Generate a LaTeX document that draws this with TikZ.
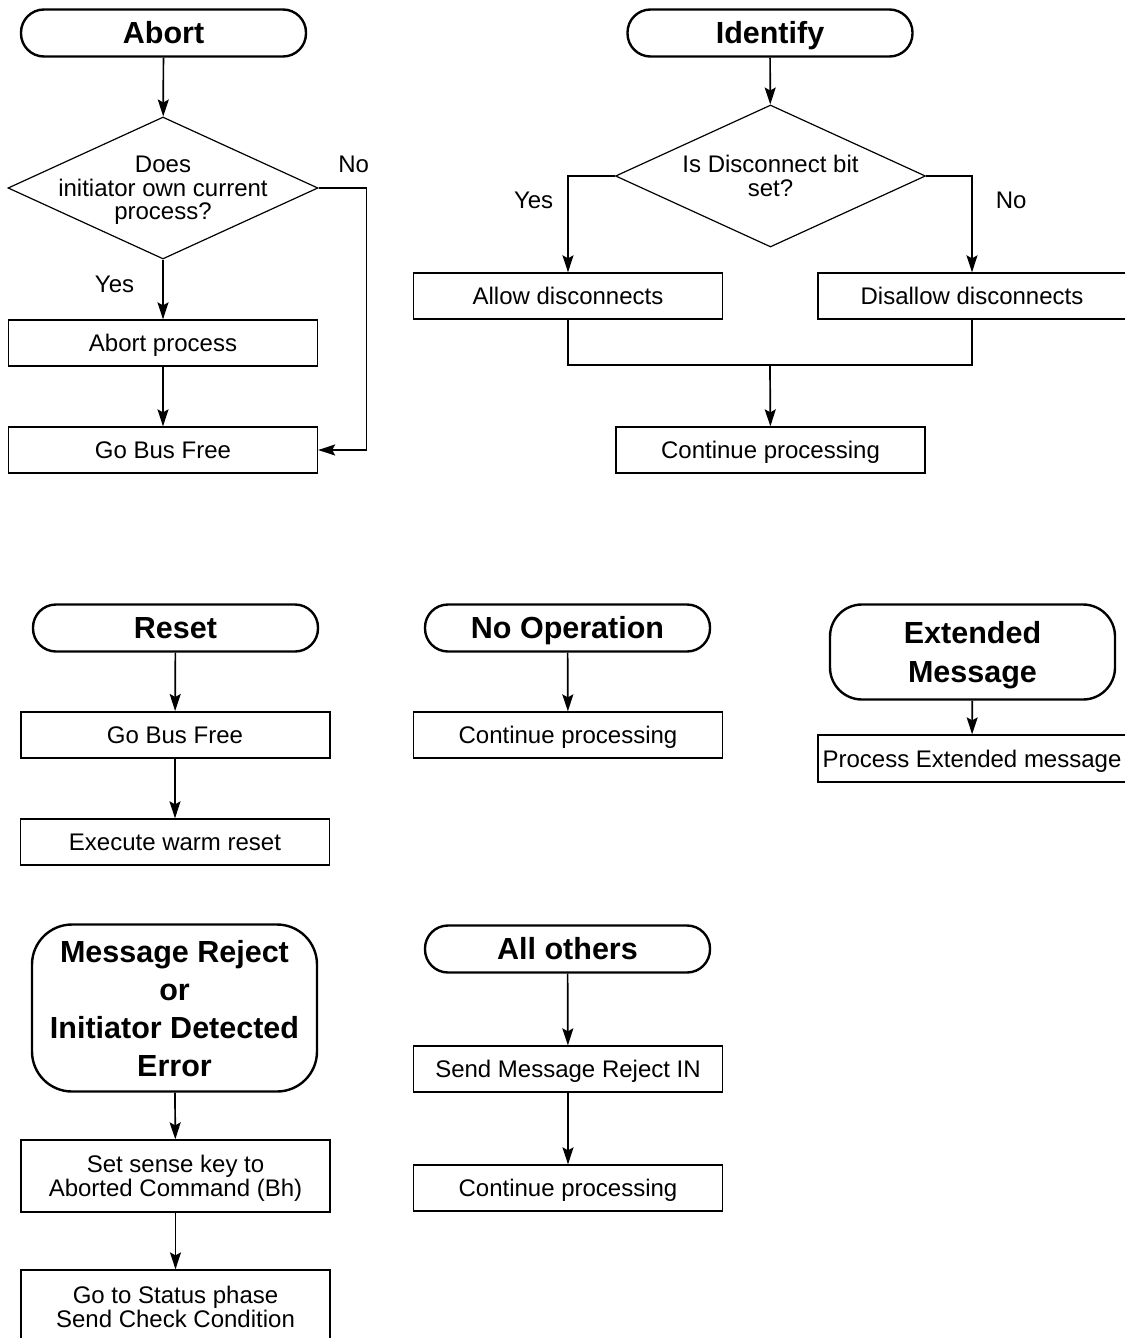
\documentclass[tikz,border=0pt]{standalone}
\usepackage{fontspec}
\setmainfont{Liberation Sans}
\usepackage{tikz}
\usetikzlibrary{shapes.geometric}
\usetikzlibrary{positioning}
\usetikzlibrary{arrows.meta}
\begin{document}
\begin{tikzpicture}[x=1pt,y=-1pt,
  termbox/.style={draw,line width=2.4pt,rounded corners=23pt,minimum width=285pt,minimum height=47pt,inner sep=0pt,text depth=0pt,align=center,font=\bfseries\fontsize{30.5}{38}\selectfont},
  term/.style={termbox,text height=21.8pt},
  box/.style={draw,line width=1.3pt,minimum width=309pt,minimum height=46pt,inner sep=0pt,text depth=0pt,align=center,font=\fontsize{24}{23.5}\selectfont},
  proc/.style={box,text height=17.2pt},
  decide/.style={draw,diamond,aspect=2.2,line width=1.2pt,minimum width=310pt,minimum height=142pt,inner xsep=-50pt,inner ysep=0pt,text depth=0pt,align=center,font=\fontsize{24}{23.5}\selectfont},
  lbl/.style={inner sep=0pt,font=\fontsize{24}{23.5}\selectfont},
  line/.style={line width=1.7pt},
  arr/.style={line,-{Stealth[length=17pt,width=11pt,inset=3pt]}}]
\useasboundingbox (0,0) rectangle (1124,1338);
\node[term] (abort) at (163.5,33) {Abort};
\node[decide] (ownproc) at (163,188) {Does\\initiator own current\\process?};
\node[proc] (abortproc) at (163,343) {Abort process};
\node[proc] (busfreea) at (163,450) {Go Bus Free};
\draw[arr] (abort) -- (ownproc);
\draw[arr] (ownproc) -- node[lbl,pos=0.42,left=28pt]{Yes} (abortproc);
\draw[arr] (abortproc) -- (busfreea);
\draw[arr] (ownproc.east) -- node[lbl,pos=0.73,above=14pt]{No} ++(48,0) |- (busfreea.east);
\node[term] (identify) at (770,33) {Identify};
\node[decide] (discbit) at (770.5,176) {Is Disconnect bit\\set?};
\node[proc] (allow) at (568,296) {Allow disconnects};
\node[proc,minimum width=308pt] (disallow) at (972,296) {Disallow disconnects};
\coordinate (join) at (770,365);
\node[proc] (contida) at (770.5,450) {Continue processing};
\draw[arr] (identify) -- (discbit);
\draw[arr] (discbit.west) -| node[lbl,pos=0.625,left=14pt]{Yes} (allow.north);
\draw[arr] (discbit.east) -| node[lbl,pos=0.625,right=23pt]{No} (disallow.north);
\draw[line] (allow.south) |- (join) -| (disallow.south);
\draw[arr] (join) -- (contida);
\node[term] (reset) at (175.5,628) {Reset};
\node[proc,line width=2pt] (busfreeb) at (175,735) {Go Bus Free};
\node[proc] (warmreset) at (175,842) {Execute warm reset};
\draw[arr] (reset) -- (busfreeb);
\draw[arr] (busfreeb) -- (warmreset);
\node[term] (noop) at (567.5,628) {No Operation};
\node[proc] (contnoop) at (568,735) {Continue processing};
\draw[arr] (noop) -- (contnoop);
\node[termbox,minimum height=95pt,rounded corners=32pt] (extmsg) at (972.5,652) {Extended\\[1pt]Message};
\node[proc,minimum width=308pt,minimum height=47pt] (procext) at (972,758.5) {Process Extended message};
\draw[arr] (extmsg) -- (procext);
\node[termbox,minimum height=167pt,rounded corners=40pt] (msgrej) at (174.5,1008) {Message Reject\\or\\Initiator Detected\\Error};
\node[box,minimum height=72pt] (sensekey) at (175.5,1176) {Set sense key to\\Aborted Command (Bh)};
\node[box,minimum height=74pt] (statusph) at (175.5,1307) {Go to Status phase\\Send Check Condition};
\draw[arr] (msgrej) -- (sensekey);
\draw[arr] (sensekey) -- (statusph);
\node[term] (allothers) at (567.5,949) {All others};
\node[proc] (rejectin) at (568,1069) {Send Message Reject IN};
\node[proc] (contothers) at (568,1188) {Continue processing};
\draw[arr] (allothers) -- (rejectin);
\draw[arr] (rejectin) -- (contothers);
\end{tikzpicture}
\end{document}
